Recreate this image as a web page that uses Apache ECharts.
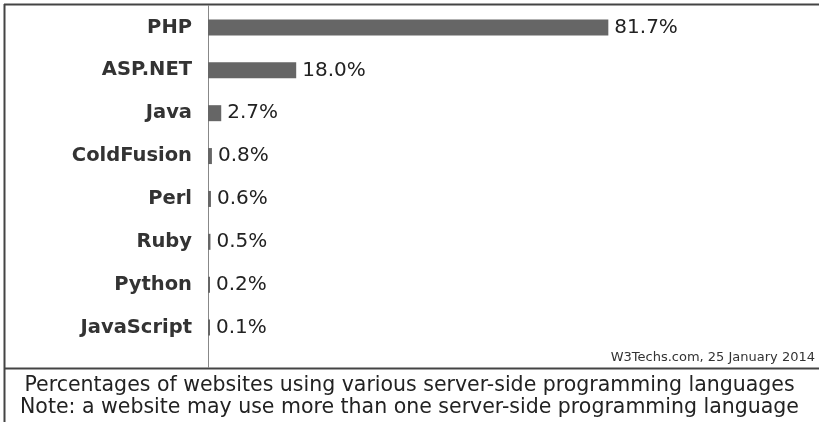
<!DOCTYPE html>
<html><head><meta charset="utf-8">
<script src="https://cdn.jsdelivr.net/npm/echarts@6/dist/echarts.min.js"></script>
<style>html,body{margin:0;padding:0;background:#fff}#c{width:819px;height:422px}</style>
</head><body><div id="c"></div>
<script>
const categories = ['PHP','ASP.NET','Java','ColdFusion','Perl','Ruby','Python','JavaScript'];
const values = [81.7, 18.0, 2.7, 0.8, 0.6, 0.5, 0.2, 0.1];
const sourceText = 'W3Techs.com, 25 January 2014';
const captionLines = ['Percentages of websites using various server-side programming languages','Note: a website may use more than one server-side programming language'];

const chart = echarts.init(document.getElementById('c'), null, {renderer:'canvas'});
const FONT = 'DejaVu Sans';
chart.setOption({
  animation:false,
  backgroundColor:'#fff',
  grid:{left:208, top:6, height:343, right:121},
  xAxis:{type:'value', min:0, max:100, show:false},
  yAxis:{type:'category', data:categories, inverse:true,
    axisLine:{show:false}, axisTick:{show:false},
    axisLabel:{fontFamily:FONT, fontWeight:'bold', fontSize:19.5, color:'#333', margin:16}},
  series:[{type:'bar', data:values, barWidth:16, barMinHeight:2,
    itemStyle:{color:'#666'},
    label:{show:true, position:'right', distance:6, fontFamily:FONT, fontSize:20, color:'#222',
      formatter:p=>p.value.toFixed(1)+'%'}}],
  title:[
    {text:sourceText, right:4, top:351, padding:0, textStyle:{fontFamily:FONT, fontSize:13, fontWeight:'normal', color:'#333'}},
    {text:captionLines.join('\n'), left:'center', top:375, padding:[0,0,0,4],
     textStyle:{fontFamily:FONT, fontSize:20.5, fontWeight:'normal', color:'#222', lineHeight:22, align:'center'}}
  ],
  graphic:[
    {type:'line', shape:{x1:4, y1:4.5, x2:819, y2:4.5}, style:{stroke:'#444', lineWidth:2}},
    {type:'line', shape:{x1:4.5, y1:4, x2:4.5, y2:422}, style:{stroke:'#444', lineWidth:2}},
    {type:'line', shape:{x1:4, y1:368.5, x2:819, y2:368.5}, style:{stroke:'#444', lineWidth:2}},
    {type:'line', shape:{x1:208.5, y1:5, x2:208.5, y2:368}, style:{stroke:'#888', lineWidth:1}}
  ]
});
</script></body></html>
